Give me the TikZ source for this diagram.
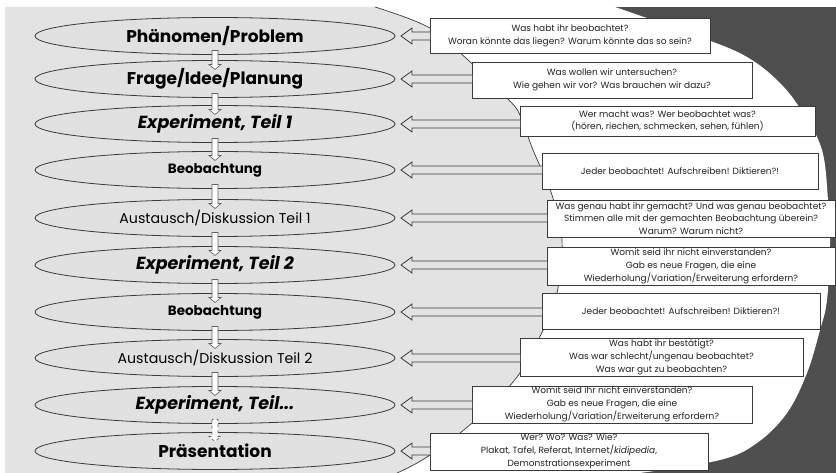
\documentclass[tikz,border=0pt]{standalone}
\usepackage{fontspec}
\setmainfont{Poppins}
\usetikzlibrary{shapes.geometric,calc}
\definecolor{bglight}{HTML}{E3E3E3}
\definecolor{ellfill}{HTML}{E1E1E1}
\definecolor{bgdark}{HTML}{4F4F4F}
\definecolor{linec}{HTML}{3A3A3A}
\definecolor{txtc}{HTML}{222222}
\tikzset{
  ell/.style={ellipse, draw=linec, line width=0.8pt, fill=ellfill, minimum width=360pt, minimum height=37pt, inner sep=0pt, outer sep=0pt, text=black},
  bigf/.style={font=\fontsize{17}{19}\selectfont\bfseries},
  itf/.style={font=\fontsize{17.5}{19}\selectfont\bfseries\itshape},
  midb/.style={font=\fontsize{13.5}{15}\selectfont\bfseries},
  midr/.style={font=\fontsize{14.2}{16}\selectfont},
  qbox/.style={rectangle, draw=linec, line width=0.8pt, fill=white, align=center, inner sep=0pt, outer sep=0pt, text=txtc, font=\fontsize{9}{12.8}\selectfont},
  larrow/.style={draw=linec, line width=0.8pt, fill=bglight},
  darrow/.style={draw=linec!80, line width=0.6pt, fill=white}
}
\newcommand\leftarr[2]{%
  \filldraw[larrow] let \p1=(#1.east), \p2=(#2.west) in
    (\x2,\y1+4pt) -- (\x1+17pt,\y1+4pt) -- (\x1+17pt,\y1+8pt) -- (\x1+6pt,\y1)
    -- (\x1+17pt,\y1-8pt) -- (\x1+17pt,\y1-4pt) -- (\x2,\y1-4pt);}
\newcommand\downarr[3][]{%
  \filldraw[darrow,#1] let \p1=(#2.south), \p2=(#3.north) in
    (\x1-3pt,\y1+4pt) -- (\x1-3pt,\y2-4pt) -- (\x1-6pt,\y2-4pt) -- (\x1,\y2-9pt)
    -- (\x1+6pt,\y2-4pt) -- (\x1+3pt,\y2-4pt) -- (\x1+3pt,\y1+4pt) -- cycle;}
\begin{document}
\begin{tikzpicture}[x=1pt,y=-1pt]
\useasboundingbox (0,0) rectangle (836,473);
% background
\fill[bgdark] (5,7) rectangle (836,473);
\fill[white] (370,7) -- plot[smooth,tension=0.6] coordinates {(615,7) (700,37) (747,57) (780,83) (803,113) (822,150) (828,200) (830,245) (827,300) (820,330) (807,373) (787,413) (757,443) (720,460) (640,473)} -- (370,473) -- cycle;
\fill[bglight] (5,7) -- plot[smooth,tension=0.6] coordinates {(375,7) (430,28) (468,60) (507,98) (520,115) (533,150) (552,195) (562,240) (557,293) (543,330) (517,377) (472,423) (427,457) (397,473)} -- (5,473) -- cycle;
\draw[linec, line width=0.7pt] plot[smooth,tension=0.6] coordinates {(375,7) (430,28) (468,60) (507,98) (520,115) (533,150) (552,195) (562,240) (557,293) (543,330) (517,377) (472,423) (427,457) (397,473)};
% ellipses
\node[ell,bigf] (e1) at (215,36) {Phänomen/Problem};
\node[ell,bigf] (e2) at (215,79) {Frage/Idee/Planung};
\node[ell,itf] (e3) at (215,124) {Experiment, Teil 1};
\node[ell,midb] (e4) at (215,170) {Beobachtung};
\node[ell,midr] (e5) at (215,218) {Austausch/Diskussion Teil 1};
\node[ell,itf] (e6) at (215,265) {Experiment, Teil 2};
\node[ell,midb] (e7) at (215,312) {Beobachtung};
\node[ell,midr] (e8) at (215,358) {Austausch/Diskussion Teil 2};
\node[ell,itf] (e9) at (215,405) {Experiment, Teil...};
\node[ell,bigf] (e10) at (215,451) {Präsentation};
% down arrows
\downarr{e1}{e2}
\downarr{e2}{e3}
\downarr{e3}{e4}
\downarr{e4}{e5}
\downarr{e5}{e6}
\downarr{e6}{e7}
\downarr{e7}{e8}
\downarr{e8}{e9}
\downarr[dashed]{e9}{e10}
% question boxes
\node[qbox, minimum width=280pt, minimum height=35pt] (b1) at (570,35.5) {Was habt ihr beobachtet?\\Woran könnte das liegen? Warum könnte das so sein?};
\node[qbox, minimum width=280pt, minimum height=36pt] (b2) at (612,80) {Was wollen wir untersuchen?\\Wie gehen wir vor? Was brauchen wir dazu?};
\node[qbox, minimum width=295pt, minimum height=30pt] (b3) at (667.5,121) {Wer macht was? Wer beobachtet was?\\(hören, riechen, schmecken, sehen, fühlen)};
\node[qbox, minimum width=276pt, minimum height=36pt] (b4) at (680,171) {Jeder beobachtet! Aufschreiben! Diktieren?!};
\node[qbox, minimum width=288pt, minimum height=37pt] (b5) at (691,218.5) {Was genau habt ihr gemacht? Und was genau beobachtet?\\Stimmen alle mit der gemachten Beobachtung überein?\\Warum? Warum nicht?};
\node[qbox, minimum width=288pt, minimum height=38pt] (b6) at (691,266) {Womit seid ihr nicht einverstanden?\\Gab es neue Fragen, die eine\\Wiederholung/Variation/Erweiterung erfordern?};
\node[qbox, minimum width=278pt, minimum height=36pt] (b7) at (681,311) {Jeder beobachtet! Aufschreiben! Diktieren?!};
\node[qbox, minimum width=283pt, minimum height=38pt] (b8) at (661.5,357) {Was habt ihr bestätigt?\\Was war schlecht/ungenau beobachtet?\\Was war gut zu beobachten?};
\node[qbox, minimum width=280pt, minimum height=37pt] (b9) at (612,404.5) {Womit seid ihr nicht einverstanden?\\Gab es neue Fragen, die eine\\Wiederholung/Variation/Erweiterung erfordern?};
\node[qbox, minimum width=278pt, minimum height=37pt] (b10) at (569,451.5) {Wer? Wo? Was? Wie?\\Plakat, Tafel, Referat, Internet/\textit{kidipedia},\\Demonstrationsexperiment};
% left arrows
\leftarr{e1}{b1}
\leftarr{e2}{b2}
\leftarr{e3}{b3}
\leftarr{e4}{b4}
\leftarr{e5}{b5}
\leftarr{e6}{b6}
\leftarr{e7}{b7}
\leftarr{e8}{b8}
\leftarr{e9}{b9}
\leftarr{e10}{b10}
\end{tikzpicture}
\end{document}
